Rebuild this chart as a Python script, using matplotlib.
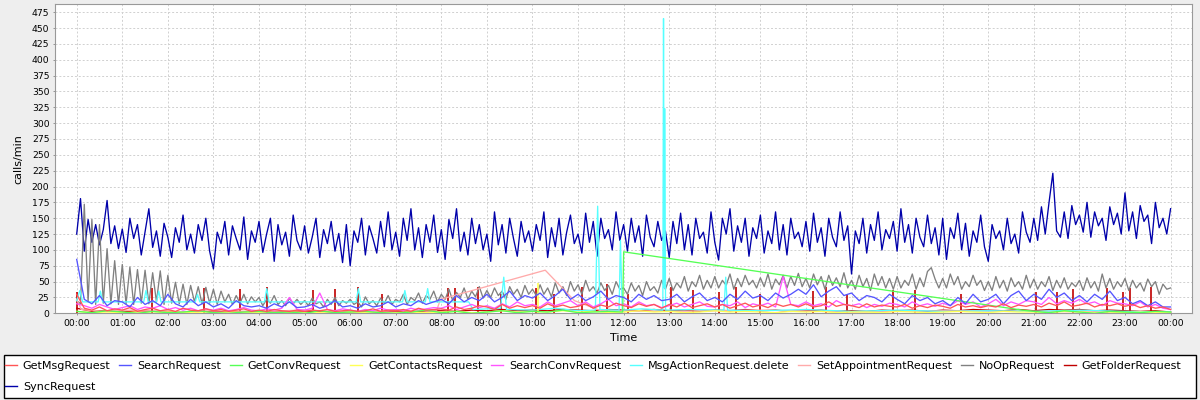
#!/usr/bin/env python3
import numpy as np
import matplotlib
matplotlib.use('Agg')
import matplotlib.pyplot as plt
from matplotlib.lines import Line2D
from matplotlib.patches import Rectangle
from matplotlib.ticker import FuncFormatter

NAMES = ['GetMsgRequest', 'SearchRequest', 'GetConvRequest', 'GetContactsRequest',
         'SearchConvRequest', 'MsgActionRequest.delete', 'SetAppointmentRequest',
         'NoOpRequest', 'GetFolderRequest', 'SyncRequest']
COLORS = ['#ff5555', '#5555ff', '#55ff55', '#ffff55', '#ff55ff',
          '#55ffff', '#ffaaaa', '#808080', '#c00000', '#0000aa']

# SyncRequest, every 5 min (one row per hour)
SYNC = [
    125, 181, 98, 148, 112, 140, 108, 132, 178, 110, 138, 102,
    133, 96, 150, 118, 140, 92, 128, 165, 104, 130, 90, 142,
    120, 88, 135, 112, 155, 100, 125, 95, 140, 115, 150, 98,
    70, 128, 110, 145, 92, 138, 118, 100, 152, 85, 130, 112,
    145, 96, 125, 150, 82, 140, 108, 128, 90, 155, 115, 100,
    138, 95, 120, 150, 88, 132, 110, 145, 98, 126, 80, 140,
    75, 130, 112, 150, 92, 138, 118, 95, 145, 105, 160, 100,
    128, 90, 150, 115, 165, 100, 135, 88, 140, 112, 155, 96,
    132, 85, 148, 118, 165, 98, 128, 92, 150, 110, 140, 100,
    125, 82, 160, 108, 140, 95, 150, 118, 90, 145, 112, 130,
    98, 140, 115, 160, 88, 135, 105, 150, 92, 128, 155, 110,
    125, 95, 158, 112, 145, 90, 150, 118, 132, 100, 160, 115,
    140, 98, 150, 112, 138, 90, 155, 120, 105, 145, 115, 130,
    88, 145, 110, 158, 100, 140, 92, 150, 118, 128, 95, 160,
    112, 84, 150, 125, 165, 98, 138, 112, 150, 90, 135, 118,
    155, 95, 130, 110, 160, 100, 140, 92, 150, 118, 128, 105,
    145, 98, 158, 112, 135, 90, 150, 120, 105, 160, 115, 138,
    62, 130, 110, 150, 95, 140, 115, 160, 100, 132, 118, 145,
    98, 165, 112, 140, 95, 150, 120, 105, 155, 110, 135, 92,
    150, 85, 135, 118, 158, 100, 142, 90, 130, 112, 155, 105,
    82, 140, 118, 130, 100, 150, 110, 125, 95, 160, 128, 112,
    150, 115, 168, 125, 175, 221, 130, 120, 160, 118, 170, 140,
    155, 128, 175, 120, 160, 138, 150, 115, 168, 140, 158, 125,
    190, 130, 160, 118, 170, 145, 155, 110, 175, 135, 150, 125,
    165,
]

# NoOpRequest, every 5 min
NOOP = [
    20, 15, 172, 18, 148, 14, 140, 16, 102, 15, 83, 14,
    77, 15, 73, 14, 69, 16, 68, 15, 64, 18, 67, 14,
    60, 16, 49, 15, 46, 14, 44, 18, 42, 15, 41, 16,
    38, 14, 35, 18, 30, 14, 28, 16, 30, 15, 26, 18,
    25, 12, 22, 16, 28, 14, 20, 12, 24, 15, 22, 14,
    20, 12, 24, 15, 18, 10, 22, 14, 25, 12, 20, 16,
    22, 14, 18, 10, 26, 15, 20, 12, 24, 16, 28, 14,
    22, 18, 30, 14, 25, 20, 32, 16, 28, 22, 35, 18,
    30, 22, 38, 20, 33, 25, 40, 22, 35, 26, 42, 24,
    36, 25, 40, 28, 35, 22, 42, 30, 38, 25, 44, 30,
    38, 28, 45, 30, 40, 26, 48, 32, 42, 28, 50, 35,
    45, 30, 52, 35, 42, 32, 48, 36, 44, 30, 50, 38,
    40, 30, 48, 35, 44, 28, 50, 36, 42, 32, 52, 38,
    55, 36, 48, 40, 58, 35, 50, 42, 60, 38, 52, 40,
    58, 40, 52, 44, 62, 38, 55, 42, 60, 45, 52, 40,
    56, 42, 62, 38, 54, 45, 60, 40, 58, 44, 63, 42,
    55, 40, 62, 45, 58, 38, 60, 44, 56, 42, 64, 40,
    52, 38, 60, 42, 55, 36, 62, 44, 58, 40, 55, 38,
    58, 40, 52, 44, 62, 38, 56, 42, 66, 72, 54, 40,
    55, 40, 62, 45, 58, 38, 50, 42, 60, 44, 52, 36,
    50, 36, 58, 40, 52, 35, 56, 42, 50, 38, 60, 40,
    54, 38, 50, 42, 58, 36, 52, 40, 56, 38, 48, 42,
    52, 36, 56, 40, 50, 35, 62, 40, 55, 38, 50, 42,
    55, 36, 52, 40, 48, 35, 54, 42, 50, 30, 46, 38,
    40,
]

# SearchRequest, every 10 min
SEARCH = [
    85, 22, 15, 28, 12, 20,   18, 10, 25, 14, 20, 12,
    30, 15, 10, 22, 12, 18,   10, 15, 8, 20, 12, 10,
    12, 8, 15, 10, 18, 9,     10, 14, 8, 12, 20, 10,
    12, 8, 15, 10, 12, 18,    10, 15, 12, 20, 14, 18,
    22, 15, 28, 18, 25, 20,   30, 18, 25, 35, 20, 28,
    24, 32, 20, 28, 38, 22,   30, 20, 26, 35, 22, 28,
    25, 18, 30, 22, 28, 20,   22, 30, 18, 26, 32, 20,
    25, 18, 30, 22, 35, 24,   28, 20, 32, 24, 30, 38,
    30, 45, 26, 35, 42, 28,   32, 20, 28, 25, 18, 30,
    22, 15, 28, 20, 25, 15,   20, 12, 25, 15, 30, 18,
    22, 30, 15, 28, 35, 20,   30, 22, 38, 25, 32, 20,
    28, 18, 30, 22, 35, 20,   25, 15, 20, 12, 18, 10,
    10,
]

# GetMsgRequest, every 10 min
GETMSG = [
    30, 8, 5, 10, 4, 7,      5, 9, 3, 6, 8, 4,
    6, 3, 8, 5, 4, 7,        4, 6, 3, 5, 7, 3,
    5, 3, 6, 4, 3, 5,        3, 5, 4, 6, 3, 4,
    5, 3, 4, 7, 3, 5,        4, 6, 3, 8, 5, 6,
    7, 5, 10, 6, 8, 12,      10, 6, 14, 8, 12, 9,
    12, 8, 15, 10, 13, 9,    11, 15, 8, 13, 10, 16,
    12, 9, 15, 11, 14, 8,    14, 10, 16, 9, 12, 15,
    10, 14, 8, 12, 16, 10,   13, 9, 15, 11, 14, 10,
    15, 10, 12, 18, 11, 14,  12, 9, 15, 10, 13, 11,
    10, 14, 8, 12, 9, 13,    11, 8, 14, 10, 12, 9,
    12, 10, 15, 9, 13, 11,   14, 10, 16, 12, 18, 11,
    13, 16, 10, 14, 12, 15,  11, 14, 9, 12, 8, 10,
    6,
]

# SearchConvRequest, every 10 min
SEARCHCONV = [
    15, 12, 8, 14, 10, 6,    9, 12, 6, 10, 8, 12,
    6, 9, 5, 8, 4, 7,        5, 8, 4, 6, 9, 5,
    4, 7, 5, 8, 25, 6,       5, 8, 32, 6, 4, 7,
    5, 3, 6, 4, 8, 5,        6, 4, 8, 5, 7, 9,
    8, 12, 6, 10, 14, 9,     12, 8, 15, 10, 18, 12,
    14, 10, 18, 12, 16, 20,  12, 18, 10, 15, 22, 12,
    15, 10, 18, 12, 14, 9,   12, 16, 10, 14, 18, 11,
    10, 14, 12, 18, 9, 15,   12, 16, 10, 58, 14, 12,
    18, 12, 15, 10, 20, 14,  12, 15, 9, 14, 11, 16,
    14, 10, 18, 12, 15, 11,  16, 12, 20, 14, 18, 10,
    15, 22, 12, 18, 14, 20,  18, 14, 25, 15, 20, 16,
    22, 15, 18, 12, 20, 16,  15, 12, 18, 10, 14, 8,
    6,
]

# GetContactsRequest, every 20 min
CONTACTS = [
    3, 1, 2,  1, 2, 0,  2, 1, 1,  0, 2, 1,  1, 0, 2,  1, 1, 0,
    2, 1, 0,  1, 2, 1,  2, 3, 1,  2, 4, 2,  3, 2, 4,  2, 3, 1,
    2, 4, 2,  3, 1, 2,  4, 2, 3,  2, 1, 3,  2, 3, 1,  2, 2, 1,
    3, 2, 1,  2, 3, 2,  1, 3, 2,  2, 1, 3,  2, 1, 2,  1, 2, 1,
    1,
]
CONTACTS_SPIKE_T = [10.13]
CONTACTS_SPIKE_V = [48]

# GetFolderRequest, every 20 min, plus narrow spikes
FOLDER = [
    8, 3, 4,  2, 4, 3,  3, 2, 4,  2, 3, 2,  3, 2, 2,  2, 3, 2,
    2, 3, 2,  3, 2, 4,  4, 3, 5,  4, 6, 4,  5, 4, 6,  5, 4, 6,
    5, 4, 6,  4, 5, 3,  5, 4, 6,  4, 5, 3,  4, 5, 3,  4, 3, 5,
    4, 5, 3,  5, 4, 6,  5, 4, 6,  4, 6, 5,  6, 4, 5,  4, 3, 4,
    2,
]
FOLDER_SPIKE_T = [0.0, 1.65, 2.8, 3.58, 4.17, 5.18, 5.67, 6.18, 6.69, 8.15, 8.3,
                  8.81, 9.3, 10.07, 10.47, 11.08, 11.63, 12.1, 13.05, 13.52, 14.1,
                  14.47, 14.99, 16.15, 16.44, 16.89, 17.91, 18.39, 19.41, 21.05,
                  21.5, 21.86, 22.6, 22.96, 23.1, 23.58]
FOLDER_SPIKE_V = [33, 40, 40, 38, 42, 37, 38, 41, 30, 40, 40,
                  41, 31, 40, 30, 41, 46, 30, 41, 36, 33,
                  41, 30, 35, 41, 31, 37, 36, 31, 33,
                  33, 38, 40, 33, 40, 41]

# MsgActionRequest.delete, sparse samples (hour, calls/min)
CYAN_T = [0.0, 0.07, 0.13, 0.47, 0.52, 0.57, 1.47, 1.52, 1.57, 1.75, 1.8, 1.85,
          2.6, 2.65, 2.7, 4.12, 4.17, 4.22, 6.13, 6.18, 6.23, 7.15, 7.2, 7.25,
          7.65, 7.7, 7.75, 8.6, 8.7, 9.3, 9.37, 9.43, 10.0, 10.5, 11.0, 11.38,
          11.43, 11.48, 11.9, 11.93, 11.97, 12.4, 12.86, 12.875, 12.89, 12.9,
          12.92, 13.5, 14.2, 14.24, 14.28, 15.0, 16.0, 17.0, 18.0, 19.0, 20.0,
          21.0, 22.0, 23.0, 24.0]
CYAN_V = [20, 36, 18, 18, 35, 18, 18, 36, 18, 18, 35, 18,
          18, 30, 18, 18, 39, 18, 18, 39, 18, 18, 36, 18,
          18, 39, 18, 18, 6, 8, 57, 6, 5, 8, 4, 5,
          169, 6, 5, 115, 5, 7, 5, 465, 40, 323,
          5, 6, 5, 57, 5, 4, 6, 3, 5, 3, 4,
          3, 5, 3, 2]

# GetConvRequest: every 20 min until noon, long jump, every 20 min after 21:00
CONV_EARLY = [3, 1, 4, 2, 0, 3, 1, 2, 4, 1, 0, 2, 3, 1, 2, 0, 4, 1,
              2, 3, 1, 0, 2, 5, 1, 3, 0, 2, 4, 1, 3, 2, 5, 1, 2, 3]
CONV_LINK_T = [11.98, 12.0, 20.75]
CONV_LINK_V = [2, 97, 5]
CONV_LATE = [3, 1, 4, 2, 0, 3, 2, 1, 3, 2]

# SetAppointmentRequest, sparse samples
APPT_T = [0.0, 0.1, 0.5, 1.2, 2.0, 3.0, 4.0, 5.0, 6.0, 7.0, 7.9, 7.98, 10.28,
          10.92, 11.5, 13.0, 15.0, 17.0, 19.0, 21.0, 23.0, 24.0]
APPT_V = [22, 6, 3, 5, 2, 4, 3, 5, 2, 4, 5, 22, 68,
          20, 4, 3, 5, 2, 4, 3, 2, 2]


def main():
    t5 = np.arange(len(SYNC)) * 5 / 60
    t10 = np.arange(len(SEARCH)) / 6
    t20 = np.arange(len(CONTACTS)) / 3
    conv_t = np.concatenate([np.arange(len(CONV_EARLY)) / 3, CONV_LINK_T,
                             21 + np.arange(len(CONV_LATE)) / 3])
    conv_v = CONV_EARLY + CONV_LINK_V + CONV_LATE

    series = [
        (t10, GETMSG), (t10, SEARCH), (conv_t, conv_v), (t20, CONTACTS),
        (t10, SEARCHCONV), (CYAN_T, CYAN_V), (APPT_T, APPT_V), (t5, NOOP),
        (t20, FOLDER), (t5, SYNC),
    ]

    fig = plt.figure(figsize=(12, 4), dpi=100, facecolor='#eeeeee')
    ax = fig.add_axes([55 / 1200, 86.7 / 400, 1137 / 1200, 309 / 400])
    ax.set_facecolor('white')

    # JFreeChart draws the last series first
    for i, (x, y) in enumerate(series):
        ax.plot(x, y, color=COLORS[i], lw=0.95, zorder=20 - i)
    ax.vlines(FOLDER_SPIKE_T, 0, FOLDER_SPIKE_V, color=COLORS[8], lw=1.2, zorder=12)
    ax.vlines(CONTACTS_SPIKE_T, 0, CONTACTS_SPIKE_V, color=COLORS[3], lw=1.2, zorder=17)

    ax.set_xlim(-0.476, 24.47)
    ax.set_ylim(0, 487.5)
    ax.set_xticks(range(0, 25))
    ax.xaxis.set_major_formatter(FuncFormatter(lambda v, p: f'{int(round(v)) % 24:02d}:00'))
    ax.set_yticks(range(0, 476, 25))
    ax.tick_params(labelsize=6.7, length=1.5, width=0.6, color='#888888', pad=2.5)
    ax.grid(True, color='#d0d0d0', lw=0.7, linestyle=(0, (2, 2)))
    ax.set_axisbelow(True)
    for s in ax.spines.values():
        s.set_color('#999999')
        s.set_linewidth(0.8)
    ax.set_xlabel('Time', fontsize=8, labelpad=4)
    ax.set_ylabel('calls/min', fontsize=8, labelpad=6)

    fig.patches.append(Rectangle((4 / 1200, 2 / 400), 1192 / 1200, 43 / 400,
                                 transform=fig.transFigure, fc='white', ec='black', lw=1))
    order = [0, 9, 1, 2, 3, 4, 5, 6, 7, 8]
    handles = [Line2D([], [], color=COLORS[i], lw=1) for i in order]
    fig.legend(handles, [NAMES[i] for i in order], ncol=9, loc='upper left',
               bbox_to_anchor=(5 / 1200, 1 - 361 / 400), frameon=False, fontsize=8,
               handlelength=1.05, handletextpad=0.55, columnspacing=0.8,
               labelspacing=1.0, borderpad=0, borderaxespad=0)

    fig.savefig('out.png', dpi=100, facecolor=fig.get_facecolor())


if __name__ == '__main__':
    main()
